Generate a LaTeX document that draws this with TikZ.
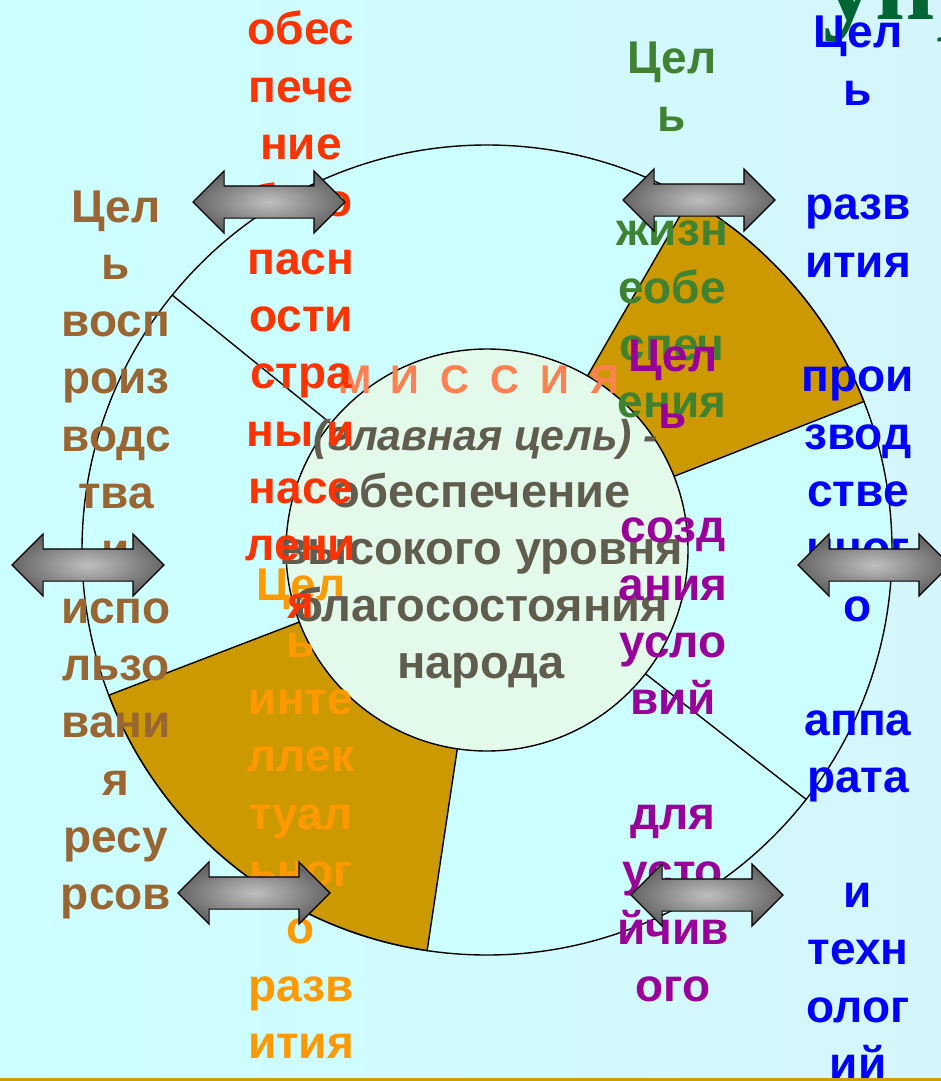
\documentclass[tikz,border=0pt]{standalone}
\usepackage{fontspec}
\setmainfont{Liberation Sans}
\newfontfamily\titlefont{Liberation Serif}
\usetikzlibrary{calc,shapes.arrows}

\definecolor{bgleft}{RGB}{204,255,255}
\definecolor{bgright}{RGB}{212,246,250}
\definecolor{ringcyan}{RGB}{204,255,255}
\definecolor{coremint}{RGB}{227,250,235}
\definecolor{sectorgold}{RGB}{204,153,0}
\definecolor{goalred}{RGB}{255,51,0}
\definecolor{goalbrown}{RGB}{153,102,51}
\definecolor{goalgreen}{RGB}{62,130,50}
\definecolor{goalblue}{RGB}{0,0,255}
\definecolor{goalpurple}{RGB}{153,0,153}
\definecolor{goalorange}{RGB}{255,153,0}
\definecolor{missioncoral}{RGB}{255,128,80}
\definecolor{missiongray}{RGB}{96,93,78}
\definecolor{titlegreen}{RGB}{0,102,51}
\definecolor{rulegold}{RGB}{200,160,0}

\begin{document}
\begin{tikzpicture}[
    x=1pt, y=-1pt,
    col/.style={anchor=base, inner sep=0pt, font=\fontsize{46}{55}\selectfont\bfseries},
    core/.style={anchor=base, inner sep=0pt, text=missiongray, font=\fontsize{47}{56}\selectfont\bfseries},
    letter/.style={anchor=base, inner sep=0pt, text=missioncoral, font=\fontsize{40}{46}\selectfont\bfseries},
    seg/.style={draw=black, line width=1.4pt},
    dblarrow/.style={double arrow, draw=black, line width=1.2pt, inner color=black!25, outer color=black!60,
        minimum height=152pt, minimum width=61pt, double arrow head extend=15pt,
        inner xsep=0pt, inner ysep=15.5pt}
]
\useasboundingbox (0,0) rectangle (941,1081);
\clip (0,0) rectangle (941,1081);
\shade[left color=bgleft, right color=bgright] (0,0) rectangle (941,1081);

% ring with sectors
\coordinate (c) at (487,550);
\filldraw[fill=ringcyan, seg] (c) circle[radius=405];
\filldraw[fill=sectorgold, seg] ($(c)+(-60:200)$) -- ($(c)+(-60:405)$)
    arc[start angle=-60, end angle=-21.5, radius=405] -- ($(c)+(-21.5:200)$) -- cycle;
\filldraw[fill=sectorgold, seg] ($(c)+(98.5:200)$) -- ($(c)+(98.5:405)$)
    arc[start angle=98.5, end angle=159, radius=405] -- ($(c)+(159:200)$) -- cycle;
\draw[seg] ($(c)+(-141:200)$) -- ($(c)+(-141:405)$);
\draw[seg] ($(c)+(38:200)$) -- ($(c)+(38:405)$);
\filldraw[fill=coremint, seg] (c) circle[radius=201];

% goal columns
\foreach \w [count=\i] in {Цел,ь,инте,ллек,туал,ьног,о,разв,ития}
    \node[col, text=goalorange] (orange-\i) at (301,{600+57.3*(\i-1)}) {\w};

% mission
\foreach \ch [count=\i from 0] in {М,И,С,С,И,Я}
    \node[letter] (mission-\i) at ({355+50*\i},393) {\ch};
\node[core, font=\fontsize{43}{50}\selectfont\bfseries\itshape] (core-0) at (486,450) {(главная цель) -};
\foreach \w [count=\i] in {обеспечение,высокого уровня,благосостояния,народа}
    \node[core] (core-\i) at (481,{507+57*(\i-1)}) {\w};

\foreach \w [count=\i] in {Цел,ь,,жизн,еобе,спеч,ения}
    \node[col, text=goalgreen] (green-\i) at (672,{74+57.3*(\i-1)}) {\w};
\foreach \w [count=\i] in {Цел,ь,,созд,ания,усло,вий,,для,усто,йчив,ого}
    \node[col, text=goalpurple] (purple-\i) at (673,{371+57.3*(\i-1)}) {\w};
\foreach \w [count=\i] in {обес,пече,ние,безо,пасн,ости,стра,ны и,насе,лени,я}
    \node[col, text=goalred] (red-\i) at (301,{45+57.3*(\i-1)}) {\w};
\foreach \w [count=\i] in {Цел,ь,восп,роиз,водс,тва,и,испо,льзо,вани,я,ресу,рсов}
    \node[col, text=goalbrown] (brown-\i) at (116,{222+57.3*(\i-1)}) {\w};

\node[anchor=base west, inner sep=0pt, text=titlegreen, font=\titlefont\fontsize{105}{110}\selectfont\bfseries] (title) at (823,20) {упр};

\foreach \w [count=\i] in {Цел,ь,,разв,ития,,прои,звод,стве,нног,о,,аппа,рата,,и,техн,олог,ий}
    \node[col, text=goalblue] (blue-\i) at (858,{48+57.3*(\i-1)}) {\w};

% two-way arrows
\node[dblarrow] (arr-nw) at (269,202) {};
\node[dblarrow] (arr-ne) at (699,200) {};
\node[dblarrow] (arr-w) at (88,565) {};
\node[dblarrow] (arr-e) at (874,565) {};
\node[dblarrow] (arr-sw) at (254,893) {};
\node[dblarrow] (arr-se) at (707,895) {};

\draw[rulegold, line width=3pt] (0,1079.5) -- (941,1079.5);
\end{tikzpicture}
\end{document}
